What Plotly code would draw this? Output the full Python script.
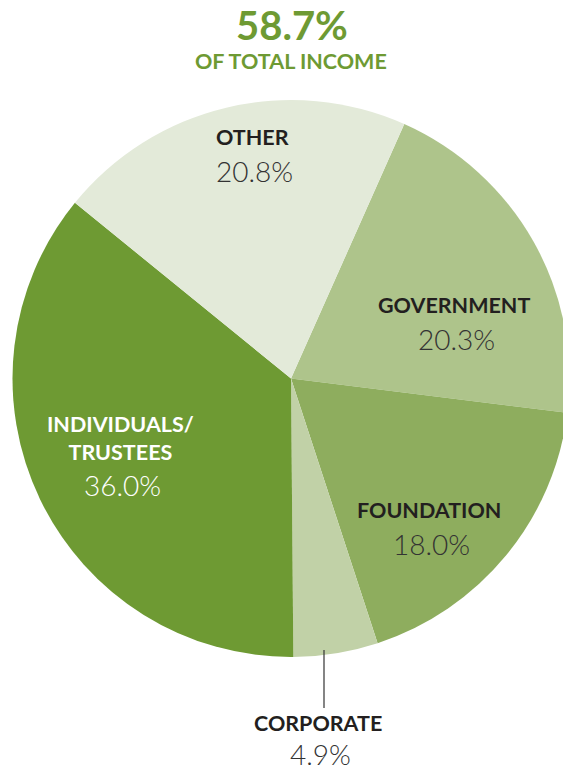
import plotly.graph_objects as go

# slice data, clockwise from the top-right
categories = ["GOVERNMENT", "FOUNDATION", "CORPORATE", "INDIVIDUALS/<br>TRUSTEES", "OTHER"]
shares = [20.3, 18.0, 4.9, 36.0, 20.8]
colors = ["#AEC48B", "#8EAD5E", "#C1D1A7", "#6E9A33", "#E3EAD9"]

headline_value = "58.7%"
headline_text = "OF TOTAL INCOME"

W, H = 600, 771  # a bit wider than the window so the pie runs off the right edge

fig = go.Figure(go.Pie(
    labels=categories,
    values=shares,
    marker=dict(colors=colors, line=dict(width=0)),
    sort=False,
    direction="clockwise",
    rotation=24,
    textinfo="none",
    hoverinfo="skip",
    showlegend=False,
    domain=dict(x=[12 / W, 570 / W], y=[114 / H, 671 / H]),
))

# label anchor points in pixels (centre of the name line)
label_pos = {
    "OTHER": (252, 137),
    "GOVERNMENT": (454, 305),
    "FOUNDATION": (429, 510),
    "INDIVIDUALS/<br>TRUSTEES": (120, 438),
    "CORPORATE": (318, 723),
}

dark = "#231F20"
annotations = []
for name, val in zip(categories, shares):
    px_, py_ = label_pos[name]
    col = "white" if name.startswith("INDIVIDUALS") else dark
    two_line = "<br>" in name
    annotations.append(dict(
        x=px_ / W, y=1 - py_ / H, xref="paper", yref="paper",
        text=f"<b>{name}</b>", showarrow=False,
        font=dict(family="Lato", size=21.5, color=col),
        xanchor="center", yanchor="middle",
    ))
    pct_y = py_ + (47 if two_line else 34)
    if name == "CORPORATE":
        pct_y = py_ + 31
    annotations.append(dict(
        x=(px_ + 2) / W, y=1 - pct_y / H, xref="paper", yref="paper",
        text=f"{val:.1f}%", showarrow=False,
        font=dict(family="Lato", size=28, color="#333333" if col == dark else "white", weight=300),
        xanchor="center", yanchor="middle",
    ))

annotations.append(dict(
    x=292 / W, y=1 - 25 / H, xref="paper", yref="paper",
    text=f"<b>{headline_value}</b>", showarrow=False,
    font=dict(family="Lato", size=40, color="#6E9A33"),
    xanchor="center", yanchor="middle",
))
annotations.append(dict(
    x=291 / W, y=1 - 61 / H, xref="paper", yref="paper",
    text=f"<b>{headline_text}</b>", showarrow=False,
    font=dict(family="Lato", size=21.5, color="#6E9A33"),
    xanchor="center", yanchor="middle",
))

fig.update_layout(
    width=W, height=H,
    margin=dict(l=0, r=0, t=0, b=0),
    paper_bgcolor="white",
    plot_bgcolor="white",
    annotations=annotations,
    shapes=[dict(
        type="line", xref="paper", yref="paper",
        x0=324 / W, x1=324 / W, y0=1 - 650 / H, y1=1 - 708 / H,
        line=dict(color="#333333", width=1.2),
    )],
)

fig.write_html("out.html", config={"displayModeBar": False},
               post_script="document.body.style.overflow='hidden';document.body.style.margin='0';")
